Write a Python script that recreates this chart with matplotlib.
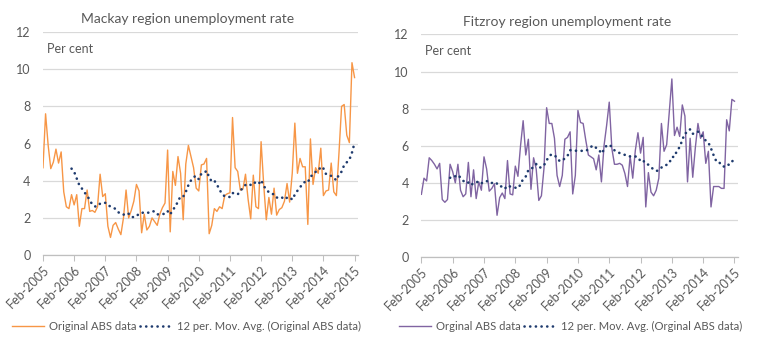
import pandas as pd
import matplotlib.pyplot as plt

plt.rcParams['font.family'] = ['Lato', 'DejaVu Sans']

# monthly unemployment rate, Feb-2005 to Feb-2015 (per cent)
mackay = [4.7, 7.6, 5.9, 4.65, 5.0, 5.7, 4.95, 5.55, 3.4, 2.6, 2.5, 3.25,
          2.7, 3.25, 1.55, 2.5, 2.5, 3.5, 2.35, 2.4, 2.3, 2.6, 4.35, 3.15,
          3.3, 1.55, 0.95, 1.6, 1.75, 1.4, 1.1, 2.0, 3.5, 2.0, 2.4, 2.9,
          3.8, 3.45, 1.2, 2.2, 1.35, 1.55, 2.0, 1.8, 1.6, 2.2, 2.55, 2.8,
          5.65, 1.25, 4.5, 3.75, 5.3, 4.4, 1.9, 4.9, 5.9, 5.3, 4.7, 3.6,
          3.45, 4.85, 4.9, 5.2, 1.15, 1.6, 2.5, 2.35, 2.6, 2.5, 3.2, 3.3,
          3.35, 7.4, 4.7, 4.5, 3.5, 3.55, 4.35, 3.0, 1.95, 4.3, 2.6, 2.5,
          6.1, 3.8, 1.9, 3.1, 2.2, 3.6, 2.15, 2.45, 2.55, 2.9, 3.85, 2.85,
          4.4, 7.1, 4.4, 5.2, 4.75, 4.75, 1.65, 6.25, 3.8, 4.7, 4.4, 5.75,
          3.2, 3.45, 3.5, 4.95, 3.4, 3.2, 5.5, 8.0, 8.1, 6.45, 6.05, 10.35,
          9.55]

fitzroy = [3.38, 4.25, 4.1, 5.35, 5.2, 5.0, 4.75, 5.05, 3.1, 2.95, 3.1, 5.0,
           4.6, 4.0, 5.0, 3.6, 3.25, 3.4, 5.1, 3.25, 4.7, 3.15, 4.05, 3.6,
           5.4, 4.75, 3.55, 3.7, 3.95, 2.25, 3.2, 3.45, 3.15, 5.2, 3.4, 3.35,
           4.9, 4.35, 6.0, 7.35, 5.5, 6.35, 3.65, 5.35, 4.75, 3.05, 3.3, 4.8,
           8.05, 7.2, 7.2, 6.4, 4.4, 3.8, 4.4, 6.35, 6.45, 6.75, 3.4, 4.4,
           7.9, 7.25, 7.2, 6.3, 5.5, 5.4, 5.3, 4.7, 5.5, 4.05, 6.0, 7.1,
           8.35, 5.85, 5.0, 5.0, 5.05, 4.95, 4.5, 3.8, 5.45, 4.25, 5.75, 6.7,
           5.6, 6.45, 2.7, 4.55, 3.5, 3.3, 3.6, 4.25, 7.2, 5.7, 6.05, 7.8,
           9.6, 6.55, 7.0, 6.5, 8.2, 7.6, 4.05, 6.4, 4.3, 5.9, 7.2, 6.4,
           6.75, 5.05, 5.7, 2.7, 3.8, 3.8, 3.8, 3.7, 3.7, 7.4, 6.8, 8.5,
           8.4]

year_labels = ["Feb-2005", "Feb-2006", "Feb-2007", "Feb-2008", "Feb-2009", "Feb-2010",
               "Feb-2011", "Feb-2012", "Feb-2013", "Feb-2014", "Feb-2015"]
y_ticks = [0, 2, 4, 6, 8, 10, 12]

grey_text = "#595959"
ma_colour = "#1F3B6E"

fig = plt.figure(figsize=(7.62, 3.48), dpi=100)

def region_panel(rect, values, colour, title, title_xy, raw_label, legend_xy):   # one chart per region
    ax = fig.add_axes(rect)
    months = list(range(len(values)))
    raw = pd.Series(values)
    ma = raw.rolling(12).mean()                                        # 12 period moving average
    raw_line, = ax.plot(months, raw, color=colour, lw=1.0, zorder=3)
    ma_line, = ax.plot(months, ma, color=ma_colour, lw=1.9, zorder=4,
                       linestyle=(0, (0.05, 2.1)), dash_capstyle="round")
    ax.set_xlim(0, 121.2)
    ax.set_ylim(0, 12)
    ax.set_yticks(y_ticks)
    ax.set_xticks(months[::12])
    ax.set_xticklabels(year_labels, rotation=45, ha="right", rotation_mode="anchor")
    ax.tick_params(axis="x", colors="#BFBFBF", labelcolor=grey_text, labelsize=9,
                   length=4, width=0.75, pad=2)
    ax.tick_params(axis="y", length=0, labelcolor=grey_text, labelsize=9, pad=9)
    ax.grid(axis="y", color="#D9D9D9", lw=0.9)
    ax.set_axisbelow(True)
    for side in ["top", "right", "left"]:
        ax.spines[side].set_visible(False)
    ax.spines["bottom"].set_color("#BFBFBF")
    ax.spines["bottom"].set_linewidth(0.9)
    ax.text(0.012, 0.925, "Per cent", transform=ax.transAxes, color=grey_text,
            fontsize=9, va="center", ha="left")
    fig.text(title_xy[0], title_xy[1], title, color=grey_text, fontsize=10,
             ha="center", va="center")
    ax.legend([raw_line, ma_line],
              [raw_label, "12 per. Mov. Avg. (" + raw_label + ")"],
              loc="center", bbox_to_anchor=legend_xy, ncol=2, frameon=False,
              fontsize=8.1, handlelength=2.8, handletextpad=0.45, columnspacing=0.35,
              labelcolor=grey_text)
    return ax

region_panel([0.0564, 0.267, 0.413, 0.641], mackay, "#F79646",
             "Mackay region unemployment rate", (0.246, 0.945),
             "Original ABS data", (0.456, -0.318))
region_panel([0.553, 0.2615, 0.415, 0.6395], fitzroy, "#8064A2",
             "Fitzroy region unemployment rate", (0.744, 0.938),
             "Orginal ABS data", (0.472, -0.31))

plt.savefig("out.png", dpi=100)
